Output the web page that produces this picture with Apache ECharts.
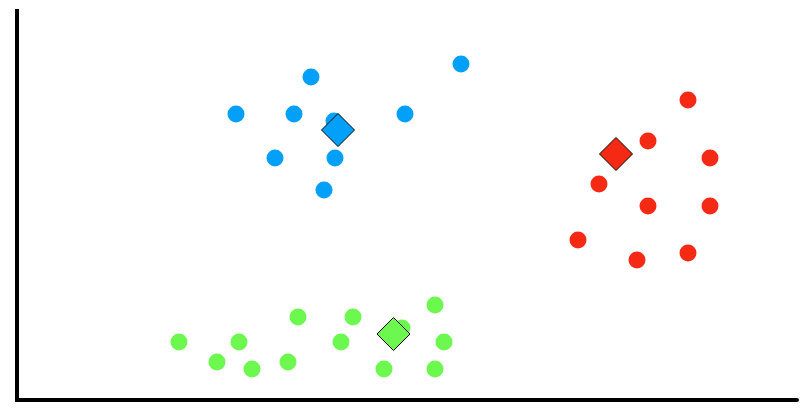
<!DOCTYPE html>
<html>
<head>
<meta charset="utf-8">
<script src="https://cdn.jsdelivr.net/npm/echarts@6/dist/echarts.min.js"></script>
<style>html,body{margin:0;padding:0;background:#fff}#c{width:804px;height:417px}</style>
</head>
<body>
<div id="c"></div>
<script>
var blueX = [294, 444, 219, 277, 317, 388, 258, 318, 307];
var blueY = [323, 336, 286, 286, 279, 286, 242, 242, 210];
var redX = [671, 631, 693, 582, 631, 693, 561, 620, 671];
var redY = [300, 259, 242, 216, 194, 194, 160, 140, 147];
var greenX = [162, 200, 222, 235, 281, 271, 336, 324, 385, 367, 418, 427, 418];
var greenY = [58, 38, 58, 31, 83, 38, 83, 58, 72, 31, 95, 58, 31];
var centroidX = [321, 599, 376.5];
var centroidY = [270, 246, 66];
var colors = ['#03a0f9', '#f42a14', '#6cf84e'];

function pairs(xs, ys) { return xs.map(function (x, i) { return [x, ys[i]]; }); }

var groups = [pairs(blueX, blueY), pairs(redX, redY), pairs(greenX, greenY)];
var series = [];
groups.forEach(function (g, i) {
  series.push({
    type: 'scatter', data: g, symbol: 'circle', symbolSize: 17,
    itemStyle: { color: colors[i], opacity: 1 }, z: 2
  });
});
centroidX.forEach(function (x, i) {
  series.push({
    type: 'scatter', data: [[x, centroidY[i]]], symbol: 'diamond', symbolSize: 33,
    itemStyle: { color: colors[i], borderColor: '#000', borderWidth: 1, opacity: 1 }, z: 3
  });
});

var chart = echarts.init(document.getElementById('c'), null, { renderer: 'canvas' });
chart.setOption({
  animation: false,
  backgroundColor: '#fff',
  grid: { left: 17, right: 7, top: 11, bottom: 17, containLabel: false },
  xAxis: {
    type: 'value', min: 0, max: 780,
    axisLine: { show: true, onZero: false, lineStyle: { color: '#000', width: 4 } },
    axisTick: { show: false }, axisLabel: { show: false }, splitLine: { show: false }
  },
  yAxis: {
    type: 'value', min: 0, max: 389,
    axisLine: { show: true, onZero: false, lineStyle: { color: '#000', width: 4, cap: 'square' } },
    axisTick: { show: false }, axisLabel: { show: false }, splitLine: { show: false }
  },
  series: series
});
</script>
</body>
</html>
